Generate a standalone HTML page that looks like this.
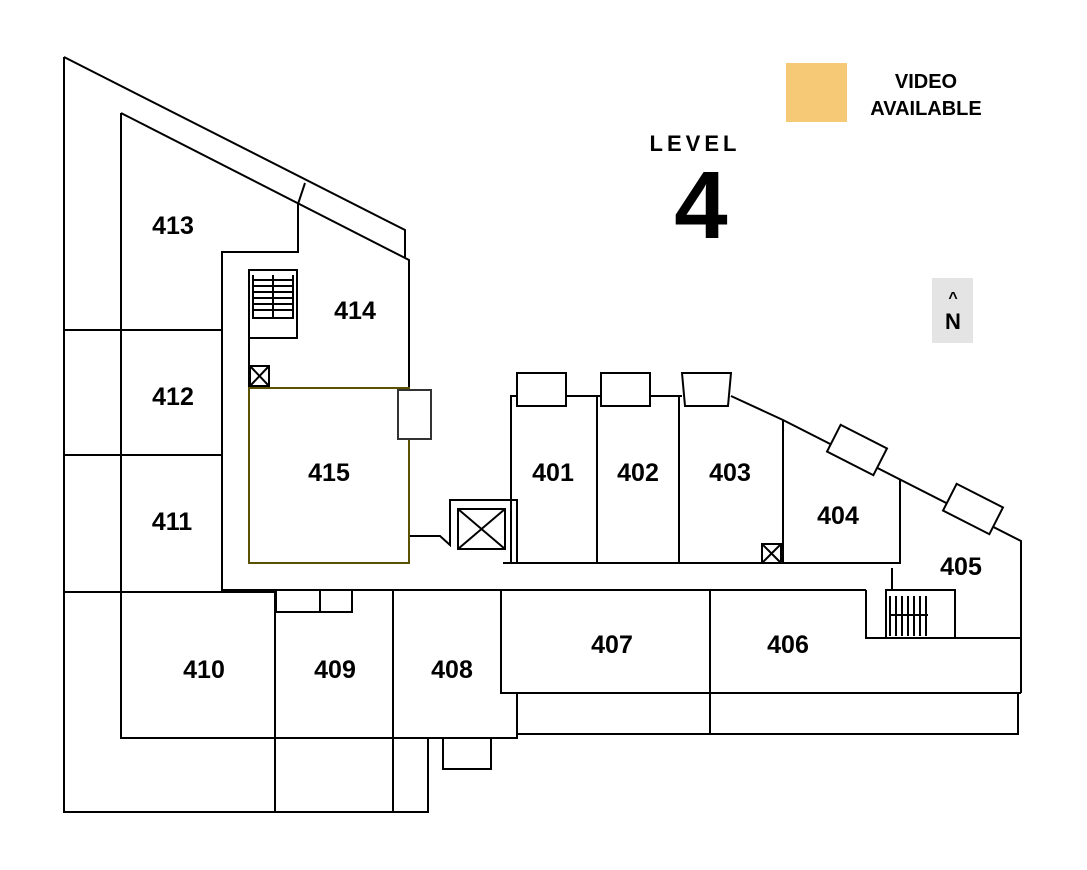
<!DOCTYPE html>
<html><head><meta charset="utf-8"><style>
html,body{margin:0;padding:0;background:#fff;}
svg{display:block;}
text{font-family:"Liberation Sans",sans-serif;font-weight:bold;fill:#000;}
</style></head><body>
<svg width="1087" height="870" viewBox="0 0 1087 870" xmlns="http://www.w3.org/2000/svg">
<rect x="786" y="63" width="61" height="59" fill="#f6c977"/>
<text x="926" y="88" font-size="20" text-anchor="middle">VIDEO</text>
<text x="926" y="115" font-size="20" text-anchor="middle">AVAILABLE</text>
<text x="695" y="151" font-size="22" text-anchor="middle" letter-spacing="4">LEVEL</text>
<text x="701" y="238" font-size="96" text-anchor="middle">4</text>
<rect x="932" y="278" width="41" height="65" fill="#e4e4e4"/>
<text x="953" y="303" font-size="16" text-anchor="middle">^</text>
<text x="953" y="329" font-size="22" text-anchor="middle">N</text>
<g fill="none" stroke="#000" stroke-width="2">
<path d="M64,57 L405,230 L405,257"/>
<path d="M64,57 L64,812 L428,812 L428,738"/>
<path d="M121,113 L409,260 L409,388"/>
<path d="M305,183 L298,204 L298,252 L222,252 L222,590 L866,590"/>
<path d="M121,113 L121,738 L517,738 L517,693"/>
<path d="M64,330 L222,330 M64,455 L222,455 M64,592 L275,592"/>
<path d="M249,280 L249,563 M249,388 L409,388"/>
<rect x="249" y="270" width="48" height="68"/>
<path d="M253,275 L253,318 L293,318 L293,275 M273,275 L273,318 M253,280 H293 M253,286 H293 M253,292 H293 M253,298 H293 M253,304 H293 M253,310 H293"/>
<rect x="250" y="366" width="19" height="20"/>
<path d="M250,366 L269,386 M269,366 L250,386"/>
<path d="M409,536 L440,536 L450,545 L450,500 L517,500 L517,563 M503,563 L783,563"/>
<rect x="458" y="509" width="47" height="40"/>
<path d="M458,509 L505,549 M505,509 L458,549"/>
<path d="M511,563 L511,396 L517,396 M566,396 L601,396 M650,396 L682,396 M731,396 L783,420 L1021,541 L1021,693"/>
<path d="M597,396 L597,563 M679,396 L679,563 M783,420 L783,563"/>
<rect x="517" y="373" width="49" height="33"/>
<rect x="601" y="373" width="49" height="33"/>
<path d="M682,373 L731,373 L728,406 L685,406 Z"/>
<rect x="762" y="544" width="19" height="19"/>
<path d="M762,544 L781,563 M781,544 L762,563"/>
<path d="M900,480 L900,563 L783,563"/>
<path d="M892,568 L892,590"/>
<g transform="translate(857,450) rotate(27)"><rect x="-26" y="-15" width="52" height="30" fill="#fff"/></g>
<g transform="translate(973,509) rotate(27)"><rect x="-26" y="-15" width="52" height="30" fill="#fff"/></g>
<path d="M866,590 L866,638 L1021,638"/>
<rect x="886" y="590" width="69" height="48"/>
<path d="M890,596 V636 M896,596 V636 M902,596 V636 M908,596 V636 M914,596 V636 M920,596 V636 M926,596 V636 M890,615 H928"/>
<path d="M275,592 L275,812 M393,590 L393,812"/>
<rect x="276" y="590" width="76" height="22"/>
<path d="M320,590 L320,612"/>
<rect x="443" y="738" width="48" height="31"/>
<path d="M501,590 L501,693 L1021,693 M710,590 L710,734 M517,693 L517,734 L1018,734 L1018,693"/>
</g>
<rect x="249" y="388" width="160" height="175" fill="none" stroke="#5a5200" stroke-width="2"/>
<rect x="398" y="390" width="33" height="49" fill="#fff" stroke="#333" stroke-width="2"/>
<g font-size="25" text-anchor="middle">
<text x="173" y="234">413</text>
<text x="355" y="319">414</text>
<text x="173" y="405">412</text>
<text x="329" y="481">415</text>
<text x="172" y="530">411</text>
<text x="553" y="481">401</text>
<text x="638" y="481">402</text>
<text x="730" y="481">403</text>
<text x="838" y="524">404</text>
<text x="961" y="575">405</text>
<text x="204" y="678">410</text>
<text x="335" y="678">409</text>
<text x="452" y="678">408</text>
<text x="612" y="653">407</text>
<text x="788" y="653">406</text>
</g>
</svg>
</body></html>
